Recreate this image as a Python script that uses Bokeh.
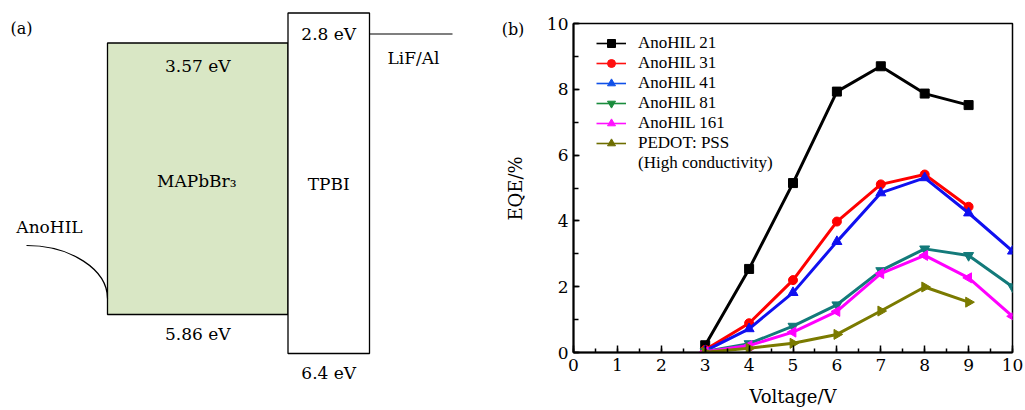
from bokeh.plotting import figure
from bokeh.layouts import row
from bokeh.models import Range1d, SingleIntervalTicker, Legend, LegendItem
from bokeh.core.properties import value
from bokeh.embed import file_html
from bokeh.resources import INLINE

# ---------------- data ----------------
# (a) energy levels of the device layers (eV)
layer_names = ["MAPbBr₃", "TPBI"]
layer_lumo = [3.57, 2.8]
layer_homo = [5.86, 6.4]

# (b) EQE versus driving voltage
voltage = [3, 4, 5, 6, 7, 8, 9, 10]
eqe_21 = [0.22, 2.54, 5.15, 7.93, 8.70, 7.87, 7.52]
eqe_31 = [0.08, 0.89, 2.20, 3.98, 5.11, 5.41, 4.43]
eqe_41 = [0.05, 0.72, 1.82, 3.37, 4.85, 5.31, 4.24, 3.08]
eqe_81 = [0.03, 0.27, 0.80, 1.45, 2.49, 3.15, 2.95, 2.00]
eqe_161 = [0.02, 0.21, 0.62, 1.25, 2.40, 2.95, 2.27, 1.10]
eqe_pedot = [0.01, 0.13, 0.28, 0.55, 1.26, 1.99, 1.53]

series_labels = ["AnoHIL 21", "AnoHIL 31", "AnoHIL 41", "AnoHIL 81",
                 "AnoHIL 161", "PEDOT: PSS"]
extra_legend_line = "(High conductivity)"
x_ticks = list(range(0, 11))
y_ticks = [0, 2, 4, 6, 8, 10]

SERIF = "DejaVu Serif"
TIMES = "Liberation Serif"

# ---------------- (a) band diagram (plus the left margin of panel b) ----------------
fa = figure(width=530, height=410, x_range=Range1d(0, 530), y_range=Range1d(410, 0),
            output_backend="svg", toolbar_location=None, min_border=0,
            x_axis_location=None, y_axis_location=None)
fa.frame_align = False
fa.grid.visible = False
fa.outline_line_color = None

# schematic placement of the two layer boxes (canvas pixels)
box_left = [107, 287.5]
box_right = [287.5, 369]
box_top = [42.5, 12.5]
box_bottom = [314, 353]
box_fill = ["#d9e7c5", "#ffffff"]

fa.quad(left=box_left, right=box_right, top=box_top, bottom=box_bottom,
        fill_color=box_fill, line_color="black", line_width=1.3)

cx = [(l + r) / 2 for l, r in zip(box_left, box_right)]
txt = dict(text_font=value(SERIF), text_font_size="17px", text_color="black",
           text_align="center", text_baseline="middle")
fa.text(x=cx, y=[box_top[0] + 23, box_top[1] + 21],
        text=[f"{v} eV" for v in layer_lumo], **txt)
fa.text(x=cx, y=[box_bottom[0] + 19, box_bottom[1] + 19],
        text=[f"{v} eV" for v in layer_homo], **txt)
fa.text(x=[cx[0] - 1, cx[1]], y=[180, 183], text=layer_names, **txt)

# cathode (LiF/Al) level
fa.segment(x0=[box_right[1]], y0=[33.5], x1=[452], y1=[33.5], line_color="black", line_width=1.2)
fa.text(x=[413], y=[57], text=["LiF/Al"], **txt)

# anode hole-injection layer
fa.bezier(x0=[26], y0=[245], x1=[box_left[0]], y1=[298],
          cx0=[70], cy0=[245], cx1=[box_left[0]], cy1=[269],
          line_color="black", line_width=1.2)
fa.text(x=[49], y=[226], text=["AnoHIL"], **txt)

# panel tags and the EQE axis title
tag = dict(text_font=value(SERIF), text_font_size="16px", text_color="black",
           text_align="center", text_baseline="middle")
fa.text(x=[21, 512.5], y=[28, 29], text=["(a)", "(b)"], **tag)
fa.text(x=[515], y=[188], text=["EQE/%"], angle=1.5708, text_font=value(SERIF),
        text_font_size="18px", text_color="black", text_align="center",
        text_baseline="middle")

# ---------------- (b) EQE curves ----------------
fb = figure(width=495, height=410, x_range=Range1d(0, 10), y_range=Range1d(0, 10),
            output_backend="svg", toolbar_location=None,
            min_border_left=43, min_border_right=13, min_border_top=23, min_border_bottom=58)
fb.frame_align = False
fb.grid.visible = False
fb.outline_line_color = "black"
fb.outline_line_width = 1.5
fb.background_fill_color = "white"

fb.xaxis.ticker = SingleIntervalTicker(interval=1, num_minor_ticks=2)
fb.yaxis.ticker = SingleIntervalTicker(interval=2, num_minor_ticks=2)
for ax in (fb.xaxis[0], fb.yaxis[0]):
    ax.axis_line_width = 2
    ax.axis_line_color = "black"
    ax.major_tick_out = 0
    ax.minor_tick_out = 0
    ax.major_tick_line_width = 1.5
    ax.minor_tick_line_width = 1.5
    ax.major_label_text_font = SERIF
    ax.major_label_text_font_size = "17px"
    ax.major_label_text_color = "black"
    ax.axis_label_text_font = SERIF
    ax.axis_label_text_font_size = "18px"
    ax.axis_label_text_font_style = "normal"
    ax.axis_label_text_color = "black"
fb.xaxis.major_tick_in = 7
fb.xaxis.minor_tick_in = 4
fb.yaxis.major_tick_in = 6
fb.yaxis.minor_tick_in = 5
fb.xaxis.axis_label = "Voltage/V"
fb.xaxis.major_label_standoff = 6
fb.xaxis.axis_label_standoff = 12
fb.yaxis.major_label_standoff = 5
fb.xaxis.major_label_overrides = {t: str(t) for t in x_ticks}
fb.yaxis.major_label_overrides = {t: str(t) for t in y_ticks}

series = [eqe_21, eqe_31, eqe_41, eqe_81, eqe_161, eqe_pedot]
line_colors = ["#000000", "#ff0000", "#1010f0", "#137a7a", "#ff00ff", "#7a7a00"]
legend_colors = ["#000000", "#ff1010", "#1050e8", "#1a8c3c", "#ff10ff", "#6e6e00"]
markers = ["square", "circle", "triangle", "inverted_triangle", "triangle", "triangle"]
angles = [0, 0, 0, 0, 1.5708, -1.5708]
sizes = [9, 9, 10, 10, 10, 10]

items = []
for ys, col, lcol, mk, ang, sz, lab in zip(series, line_colors, legend_colors,
                                            markers, angles, sizes, series_labels):
    xs = voltage[:len(ys)]
    fb.line(xs, ys, line_color=col, line_width=3)
    fb.scatter(xs, ys, marker=mk, angle=ang, size=sz, fill_color=col, line_color=col)
    # hidden twins that only style the legend key
    k1 = fb.line(xs, ys, line_color=lcol, line_width=1.6, visible=False)
    k2 = fb.scatter(xs, ys, marker=mk, angle=ang, size=7, fill_color=lcol,
                    line_color=lcol, visible=False)
    items.append(LegendItem(label=lab, renderers=[k1, k2]))

# second text line of the last entry, with a blank key
blank = fb.line(voltage[:len(eqe_pedot)], eqe_pedot, line_alpha=0, visible=False)
items.append(LegendItem(label=extra_legend_line, renderers=[blank]))

legend = Legend(items=items, location=(23, 179), orientation="vertical",
                glyph_width=30, glyph_height=20, label_height=20, label_standoff=12,
                spacing=0, padding=0, margin=0,
                label_text_font=TIMES, label_text_font_size="17px",
                label_text_color="black",
                background_fill_alpha=0, border_line_alpha=0)
fb.add_layout(legend, "center")

layout = row(fa, fb)
open("out.html", "w").write(file_html(layout, INLINE))
